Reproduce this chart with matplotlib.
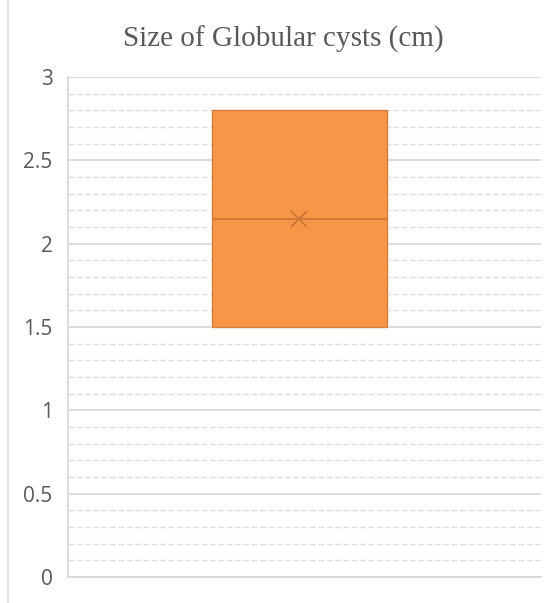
import matplotlib
matplotlib.use("Agg")
import matplotlib.pyplot as plt
from matplotlib.lines import Line2D

# box statistics (cm)
q1 = 1.5
q3 = 2.8
median = 2.15
mean = 2.15
whislo = 1.5
whishi = 2.8

title = "Size of Globular cysts (cm)"
yticks = [0, 0.5, 1, 1.5, 2, 2.5, 3]
yticklabels = ["0", "0.5", "1", "1.5", "2", "2.5", "3"]

fig = plt.figure(figsize=(5.54, 6.03), dpi=100)
ax = fig.add_axes([0.1227, 0.0431, 0.8538, 0.8292])

stats = [dict(med=median, q1=q1, q3=q3, whislo=whislo, whishi=whishi,
              mean=mean, fliers=[])]
ax.bxp(stats, positions=[1], widths=0.37, showmeans=True, patch_artist=True,
       boxprops=dict(facecolor="#F79646", edgecolor="#D2803C", linewidth=1),
       medianprops=dict(color="#C8763A", linewidth=1.2),
       meanprops=dict(marker="x", markeredgecolor="#C8763A", markersize=11,
                      markeredgewidth=1.3),
       whiskerprops=dict(color="#D2803C", linewidth=0),
       capprops=dict(linewidth=0))

ax.set_xlim(0.511, 1.511)
ax.set_ylim(0, 3)
ax.set_xticks([])
ax.set_yticks(yticks)
ax.set_yticklabels(yticklabels)
ax.tick_params(axis="y", length=0, pad=11, labelsize=15, labelcolor="#595959")
for lab in ax.get_yticklabels():
    lab.set_fontfamily("Open Sans")

# gridlines: solid majors at 0.5, dashed minors at 0.1
ax.set_yticks([i / 10 for i in range(31) if i % 5], minor=True)
ax.tick_params(axis="y", which="minor", length=0)
ax.grid(axis="y", which="major", color="#D9D9D9", linewidth=1.3)
ax.grid(axis="y", which="minor", color="#DDDDDD", linewidth=1, linestyle=(0, (4, 2)))
ax.set_axisbelow(True)

for side in ["top", "right"]:
    ax.spines[side].set_visible(False)
for side in ["left", "bottom"]:
    ax.spines[side].set_color("#D9D9D9")
    ax.spines[side].set_linewidth(1.3)

fig.text(0.511, 0.934, title, ha="center", va="center", fontsize=21,
         family="Liberation Serif", color="#595959")

# chart border on the left
fig.add_artist(Line2D([8 / 554, 8 / 554], [0, 1], transform=fig.transFigure,
                      color="#D9D9D9", linewidth=1.2))

fig.savefig("out.png", dpi=100)
